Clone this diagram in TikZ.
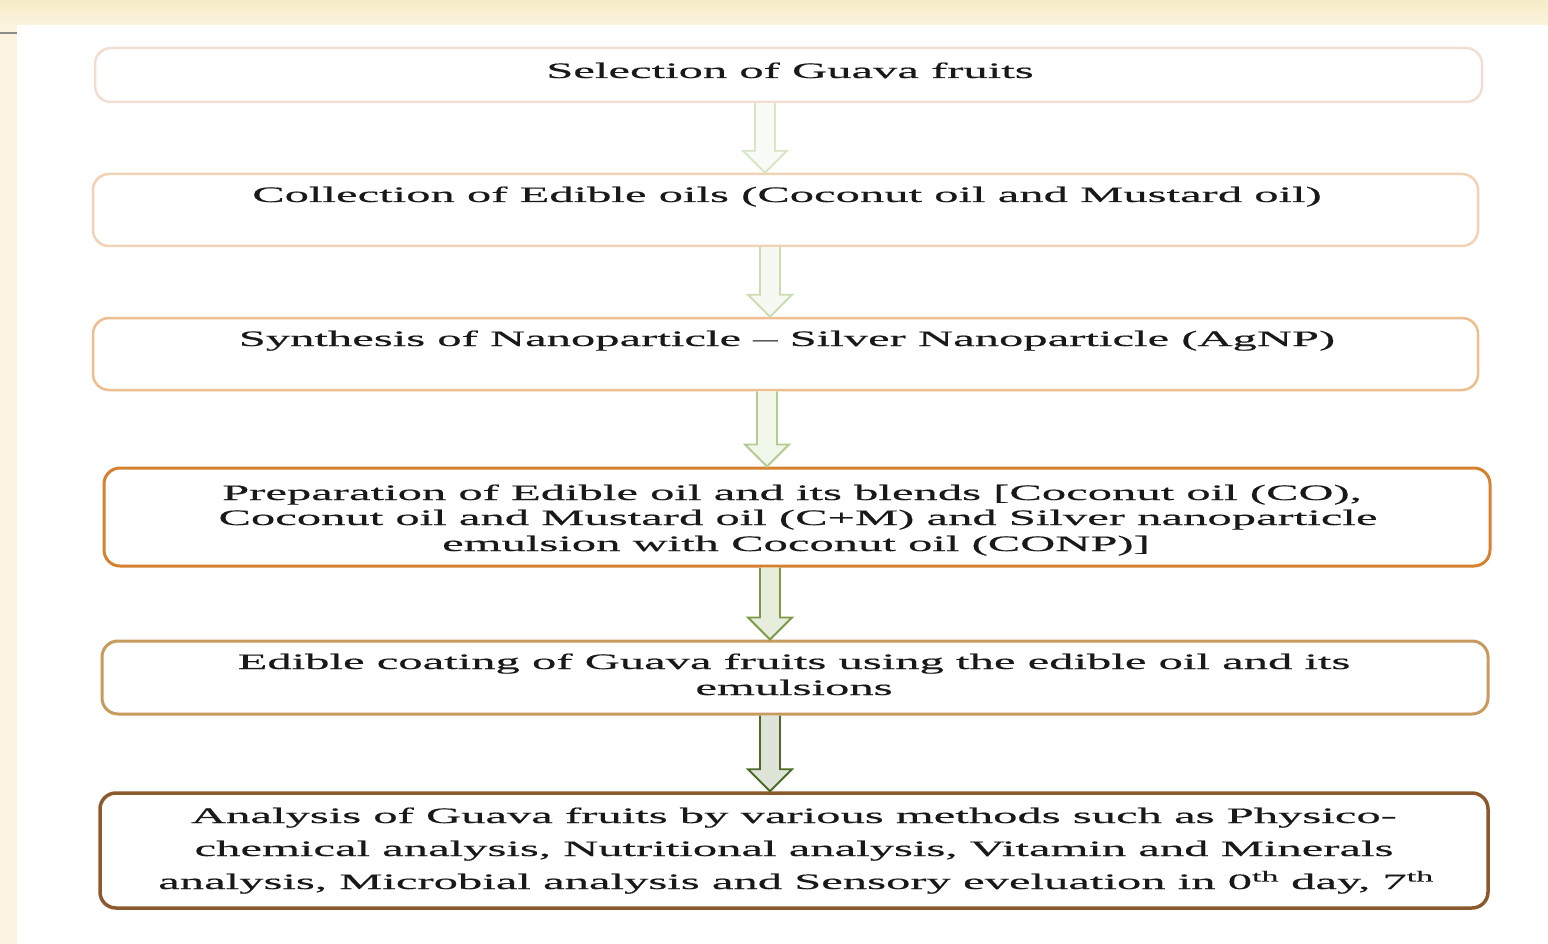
\documentclass[tikz,border=0pt]{standalone}
\usepackage{fontspec}
\setmainfont{Liberation Serif}
\newfontfamily\wfont[FakeStretch=2.21,FakeBold=0.5]{Liberation Serif}
\usetikzlibrary{calc}
\definecolor{bandA}{HTML}{F6ECC8}
\definecolor{bandB}{HTML}{FBF4DE}
\definecolor{stripc}{HTML}{FCF4E0}
\definecolor{bc1}{HTML}{F2DDD3}
\definecolor{bc2}{HTML}{F2D2B4}
\definecolor{bc3}{HTML}{EEBE8E}
\definecolor{bc4}{HTML}{D6812F}
\definecolor{bc5}{HTML}{C79A5E}
\definecolor{bc6}{HTML}{8A5A2E}
\definecolor{ac1}{HTML}{D8E6C6}
\definecolor{ac2}{HTML}{CADDB2}
\definecolor{ac3}{HTML}{B3CB90}
\definecolor{ac4}{HTML}{7A9A42}
\definecolor{ac5}{HTML}{4B6A26}
\tikzset{
  stepbox/.style={draw=#1, rounded corners=16pt, inner sep=0pt, fill=white},
  txt/.style={anchor=base, text=black!90, inner sep=0pt,
    font=\wfont\fontsize{22}{26}\selectfont},
  arrowline/.style={draw=#1, fill=#1!18, line width=1.8pt, line join=miter}
}
\newcommand\flowarrow[4]{%
  \draw[arrowline=#4] ($(#1.south -| #3)+(-10,0)$) -- ($(#2.north -| #3)+(-10,22)$)
    -- ($(#2.north -| #3)+(-22,22)$) -- (#2.north -| #3)
    -- ($(#2.north -| #3)+(22,22)$) -- ($(#2.north -| #3)+(10,22)$)
    -- ($(#1.south -| #3)+(10,0)$);}
\begin{document}
\begin{tikzpicture}[x=1pt,y=1pt]
\useasboundingbox (0,0) rectangle (1548,-944);
% background
\shade[top color=bandA, bottom color=bandB] (0,0) rectangle (1548,-25);
\fill[stripc] (0,-25) rectangle (17,-944);
\draw[black!45, line width=1.5pt] (0,-33) -- (17,-33);
% boxes
\node[stepbox=bc1, line width=2.5pt, minimum width=1387pt, minimum height=54pt] (b1) at (788.5,-75) {};
\node[stepbox=bc2, line width=2.5pt, minimum width=1385pt, minimum height=72pt] (b2) at (785.5,-210) {};
\node[stepbox=bc3, line width=2.5pt, minimum width=1385pt, minimum height=72pt] (b3) at (785.5,-354) {};
\node[stepbox=bc4, line width=3pt, minimum width=1386pt, minimum height=98pt] (b4) at (797,-517) {};
\node[stepbox=bc5, line width=3pt, minimum width=1386pt, minimum height=73pt] (b5) at (795,-677.5) {};
\node[stepbox=bc6, line width=3.5pt, minimum width=1388pt, minimum height=115pt] (b6) at (794,-850.5) {};
% texts
\node[txt] (t1) at (790,-78) {Selection of Guava fruits};
\node[txt] (t2) at (787,-202) {Collection of Edible oils (Coconut oil and Mustard oil)};
\node[txt] (t3) at (787,-346) {Synthesis of Nanoparticle – Silver Nanoparticle (AgNP)};
\node[txt] (t4a) at (792,-500) {Preparation of Edible oil and its blends [Coconut oil (CO),};
\node[txt] (t4b) at (798,-525) {Coconut oil and Mustard oil (C+M) and Silver nanoparticle};
\node[txt] (t4c) at (796,-551) {emulsion with Coconut oil (CONP)]};
\node[txt] (t5a) at (794,-669) {Edible coating of Guava fruits using the edible oil and its};
\node[txt] (t5b) at (794,-695) {emulsions};
\node[txt] (t6a) at (794,-823) {Analysis of Guava fruits by various methods such as Physico-};
\node[txt] (t6b) at (794,-856) {chemical analysis, Nutritional analysis, Vitamin and Minerals};
\node[txt] (t6c) at (796,-889) {analysis, Microbial analysis and Sensory eveluation in 0\textsuperscript{th} day, 7\textsuperscript{th}};
% arrow axes
\coordinate (x1) at (765,0);
\coordinate (x2) at (770,0);
\coordinate (x3) at (767,0);
\coordinate (x4) at (770,0);
\coordinate (x5) at (770,0);
\flowarrow{b1}{b2}{x1}{ac1}
\flowarrow{b2}{b3}{x2}{ac2}
\flowarrow{b3}{b4}{x3}{ac3}
\flowarrow{b4}{b5}{x4}{ac4}
\flowarrow{b5}{b6}{x5}{ac5}
\end{tikzpicture}
\end{document}
